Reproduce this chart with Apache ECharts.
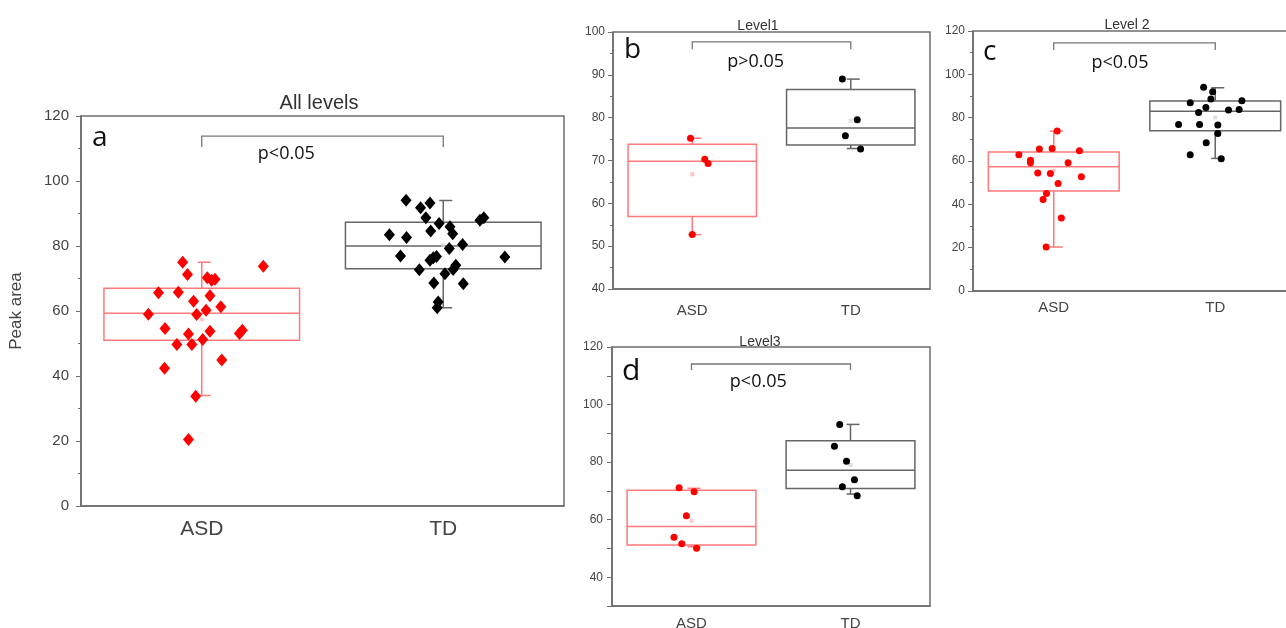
<!DOCTYPE html>
<html>
<head>
<meta charset="utf-8">
<title>Peak area - all levels and per level</title>
<script src="https://cdn.jsdelivr.net/npm/echarts@6/dist/echarts.min.js"></script>
<style>
  html, body { margin: 0; padding: 0; background: #fff; }
  #chart { width: 1286px; height: 628px; }
</style>
</head>
<body>
<div id="chart"></div>
<script>
const categories = ['ASD', 'TD'];
const panelTitles = ['All levels', 'Level1', 'Level 2', 'Level3'];
const panelLetters = ['a', 'b', 'c', 'd'];
const pTexts = ['p<0.05', 'p>0.05', 'p<0.05', 'p<0.05'];

// box stats per group: [group, lower whisker, Q1, median, Q3, upper whisker]
const boxAll = [[0, 34, 51, 59.3, 67, 75], [1, 61, 73, 80, 87.3, 94]];
const boxL1 = [[0, 52.7, 56.9, 69.8, 73.8, 75.2], [1, 72.8, 73.6, 77.6, 86.6, 89]];
const boxL2 = [[0, 20.3, 46.2, 57.3, 64.1, 73.8], [1, 61.2, 74, 83, 87.7, 93.8]];
const boxL3 = [[0, 50.6, 51.2, 57.6, 70.2, 70.9], [1, 68.9, 70.8, 77.2, 87.4, 93.1]];

// means (faint markers in the boxes): [ASD, TD]
const meanAll = [57.4, 80.2];
const meanL1 = [66.8, 79.3];
const meanL2 = [55.5, 80.1];
const meanL3 = [59.6, 79];

// points: [jitter from group centre, peak area]
const asdAll = [
  [-0.079, 75.0], [-0.059, 71.2], [0.255, 73.8], [0.023, 70.2], [0.041, 69.5], [0.055, 69.8],
  [-0.179, 65.6], [-0.097, 65.8], [0.034, 64.7], [-0.034, 63.0], [0.079, 61.3], [-0.221, 59.0],
  [-0.021, 58.9], [0.018, 60.2], [-0.152, 54.6], [0.034, 53.8], [-0.055, 52.9], [0.156, 53.1],
  [0.168, 54.1], [-0.103, 49.7], [-0.041, 49.7], [0.004, 51.2], [-0.154, 42.4], [0.083, 44.9],
  [-0.025, 33.8], [-0.055, 20.5]
];
const tdAll = [
  [-0.154, 94.1], [-0.094, 91.8], [-0.055, 93.2], [-0.072, 88.7], [-0.017, 86.9], [0.028, 85.9],
  [0.039, 83.8], [-0.052, 84.6], [0.152, 87.9], [0.168, 88.7], [-0.223, 83.5], [-0.152, 82.6],
  [0.080, 80.5], [0.025, 79.2], [-0.177, 76.9], [0.255, 76.6], [-0.055, 75.6], [-0.041, 76.4],
  [-0.028, 76.8], [0.052, 74.1], [0.041, 72.8], [-0.099, 72.7], [0.007, 71.5], [-0.039, 68.6],
  [0.083, 68.4], [-0.021, 62.8], [-0.025, 61.0]
];
const asdL1 = [[-0.011, 75.2], [0.079, 70.3], [0.100, 69.3], [0.0, 52.7]];
const tdL1 = [[-0.053, 89.0], [0.041, 79.5], [-0.034, 75.8], [0.062, 72.7]];
const asdL2 = [
  [-0.216, 62.9], [-0.144, 60.4], [-0.144, 59.2], [-0.089, 65.5], [-0.010, 65.8], [0.159, 64.7],
  [0.089, 59.2], [-0.099, 54.5], [-0.021, 54.2], [0.027, 49.6], [0.171, 52.7], [-0.045, 45.0],
  [-0.066, 42.2], [0.047, 33.7], [-0.047, 20.3], [0.021, 73.8]
];
const tdL2 = [
  [-0.072, 94.0], [-0.016, 92.0], [-0.027, 88.6], [-0.155, 86.9], [-0.058, 84.7], [-0.103, 82.4],
  [0.082, 83.5], [0.148, 83.8], [0.165, 87.8], [-0.227, 76.9], [-0.097, 76.9], [0.016, 76.6],
  [0.016, 72.7], [-0.056, 68.4], [-0.155, 62.9], [0.037, 61.0]
];
const asdL3 = [[-0.078, 71.1], [0.017, 69.7], [-0.032, 61.4], [-0.110, 53.9], [-0.061, 51.6], [0.032, 50.1]];
const tdL3 = [[-0.068, 93.1], [-0.101, 85.5], [-0.025, 80.3], [0.025, 73.9], [-0.051, 71.4], [0.042, 68.3]];

// significance brackets: [bracket top, leg end, label x, label y]
const brackets = [[113.8, 110.5, 0.35, 108.3], [97.7, 96.0, 0.40, 93.0], [114.5, 111.2, 0.41, 105.2], [114.1, 112.0, 0.42, 107.8]];

const yMins = [0, 40, 0, 30];
const yMaxs = [120, 100, 120, 120];
const yIntervals = [20, 10, 20, 10];

const panelData = [
  { box: boxAll, mean: meanAll, asd: asdAll, td: tdAll },
  { box: boxL1, mean: meanL1, asd: asdL1, td: tdL1 },
  { box: boxL2, mean: meanL2, asd: asdL2, td: tdL2 },
  { box: boxL3, mean: meanL3, asd: asdL3, td: tdL3 }
];

// layout of the four panels
const layout = [
  { grid: { left: 81, top: 116, width: 483, height: 390 }, tickFs: 15, catFs: 21, catGap: 13, yGap: 12,
    symbol: 'diamond', size: [11, 13], title: [314, 88], titleFs: 20, letter: [92, 124], letterFs: 28, minor: true },
  { grid: { left: 613, top: 32, width: 317, height: 257 }, tickFs: 12, catFs: 15, catGap: 14, yGap: 8,
    symbol: 'circle', size: 7, title: [753, 14], titleFs: 14, letter: [624, 36], letterFs: 28, minor: true },
  { grid: { left: 973, top: 31, width: 323, height: 260 }, tickFs: 12, catFs: 15, catGap: 9, yGap: 8,
    symbol: 'circle', size: 7, title: [1122, 13], titleFs: 14, letter: [983, 38], letterFs: 28, minor: true },
  { grid: { left: 612, top: 347, width: 318, height: 259 }, tickFs: 12, catFs: 15, catGap: 10, yGap: 9,
    symbol: 'circle', size: 7, title: [755, 330], titleFs: 14, letter: [622, 356], letterFs: 30, minor: false }
];

const BOX_HALF = 0.405;
const boxColors = ['#ff7a7a', '#666666'];
const pointColors = ['#ff0000', '#000000'];
const meanColors = ['#ffb8b8', '#d8d8d8'];
const axisColor = '#6e6e6e';
const labelColor = '#444';

function renderBox(params, api) {
  const g = api.value(0);
  const lo = api.value(1), q1 = api.value(2), md = api.value(3), q3 = api.value(4), hi = api.value(5);
  const tl = api.coord([g - BOX_HALF, q3]);
  const br = api.coord([g + BOX_HALF, q1]);
  const mL = api.coord([g - BOX_HALF, md]);
  const mR = api.coord([g + BOX_HALF, md]);
  const top = api.coord([g, hi]);
  const bot = api.coord([g, lo]);
  const style = { stroke: boxColors[g], lineWidth: 1.5, fill: 'none' };
  return {
    type: 'group',
    children: [
      { type: 'rect', shape: { x: tl[0], y: tl[1], width: br[0] - tl[0], height: br[1] - tl[1] }, style: style },
      { type: 'line', shape: { x1: mL[0], y1: mL[1], x2: mR[0], y2: mR[1] }, style: style },
      { type: 'line', shape: { x1: top[0], y1: top[1], x2: top[0], y2: tl[1] }, style: style },
      { type: 'line', shape: { x1: bot[0], y1: bot[1], x2: bot[0], y2: br[1] }, style: style },
      { type: 'line', shape: { x1: top[0] - 4, y1: top[1], x2: top[0] + 9, y2: top[1] }, style: style },
      { type: 'line', shape: { x1: bot[0] - 4, y1: bot[1], x2: bot[0] + 9, y2: bot[1] }, style: style }
    ]
  };
}

function makeBracketRender(i) {
  return function (params, api) {
    const yTop = api.value(0), yLeg = api.value(1), tx = api.value(2), ty = api.value(3);
    const a = api.coord([0, yTop]);
    const b = api.coord([1, yTop]);
    const la = api.coord([0, yLeg]);
    const t = api.coord([tx, ty]);
    const st = { stroke: '#777', lineWidth: 1.3, fill: 'none' };
    return {
      type: 'group',
      children: [
        { type: 'polyline', shape: { points: [[la[0], la[1]], a, b, [b[0], la[1]]] }, style: st },
        { type: 'text', x: t[0], y: t[1],
          style: { text: pTexts[i], fill: '#111', font: '18px "Open Sans", sans-serif', align: 'center', verticalAlign: 'middle' } }
      ]
    };
  };
}

const grids = [], xAxes = [], yAxes = [], series = [], titles = [], graphics = [];

layout.forEach(function (p, i) {
  grids.push(Object.assign({ show: true, borderColor: axisColor, borderWidth: 1.5, outerBoundsMode: 'none' }, p.grid));

  xAxes.push({
    type: 'category', gridIndex: i, data: categories, boundaryGap: true,
    axisLine: { onZero: false, lineStyle: { color: axisColor, width: 1.5 } },
    axisTick: { alignWithLabel: true, length: 5, lineStyle: { color: axisColor } },
    axisLabel: { color: labelColor, fontSize: p.catFs, margin: p.catGap, fontFamily: 'Liberation Sans' },
    splitLine: { show: false }
  });
  xAxes.push({ type: 'value', gridIndex: i, min: -0.5, max: 1.5, show: false });

  const y = {
    type: 'value', gridIndex: i, min: yMins[i], max: yMaxs[i], interval: yIntervals[i],
    axisLine: { show: true, onZero: false, lineStyle: { color: axisColor, width: 1.5 } },
    axisTick: { show: true, length: 5, lineStyle: { color: axisColor } },
    minorTick: { show: p.minor, splitNumber: 2, length: 3, lineStyle: { color: axisColor } },
    axisLabel: { color: labelColor, fontSize: p.tickFs, margin: p.yGap, fontFamily: 'Liberation Sans' },
    splitLine: { show: false }
  };
  if (i === 3) {
    y.axisLabel.formatter = function (v) { return v % 20 === 0 ? String(v) : ''; };
  }
  if (i === 0) {
    y.name = 'Peak area';
    y.nameLocation = 'middle';
    y.nameGap = 56;
    y.nameTextStyle = { color: labelColor, fontSize: 17, fontFamily: 'Liberation Sans' };
  }
  yAxes.push(y);

  const d = panelData[i];
  const xi = 2 * i + 1;

  series.push({
    type: 'custom', xAxisIndex: xi, yAxisIndex: i, z: 2, silent: true,
    renderItem: renderBox, data: d.box
  });
  series.push({
    type: 'scatter', xAxisIndex: xi, yAxisIndex: i, z: 3, symbol: 'rect', symbolSize: 4, silent: true,
    data: d.mean.map(function (m, g) { return { value: [g, m], itemStyle: { color: meanColors[g] } }; })
  });
  [d.asd, d.td].forEach(function (pts, g) {
    series.push({
      name: categories[g], type: 'scatter', xAxisIndex: xi, yAxisIndex: i, z: 4,
      symbol: p.symbol, symbolSize: p.size,
      itemStyle: { color: pointColors[g], opacity: 1 },
      data: pts.map(function (pt) { return [g + pt[0], pt[1]]; })
    });
  });
  series.push({
    type: 'custom', xAxisIndex: xi, yAxisIndex: i, z: 5, silent: true,
    renderItem: makeBracketRender(i), data: [brackets[i]]
  });

  titles.push({
    text: panelTitles[i], left: p.title[0], top: p.title[1], textAlign: 'center',
    textStyle: { color: '#333', fontSize: p.titleFs, fontWeight: 'normal', fontFamily: 'Liberation Sans' }
  });
  graphics.push({
    type: 'text', left: p.letter[0], top: p.letter[1], z: 10,
    style: { text: panelLetters[i], fill: '#111', font: p.letterFs + 'px "Open Sans", sans-serif' }
  });
});

const chart = echarts.init(document.getElementById('chart'));
chart.setOption({
  backgroundColor: '#fff',
  animation: false,
  title: titles,
  grid: grids,
  xAxis: xAxes,
  yAxis: yAxes,
  series: series,
  graphic: graphics
});
</script>
</body>
</html>
